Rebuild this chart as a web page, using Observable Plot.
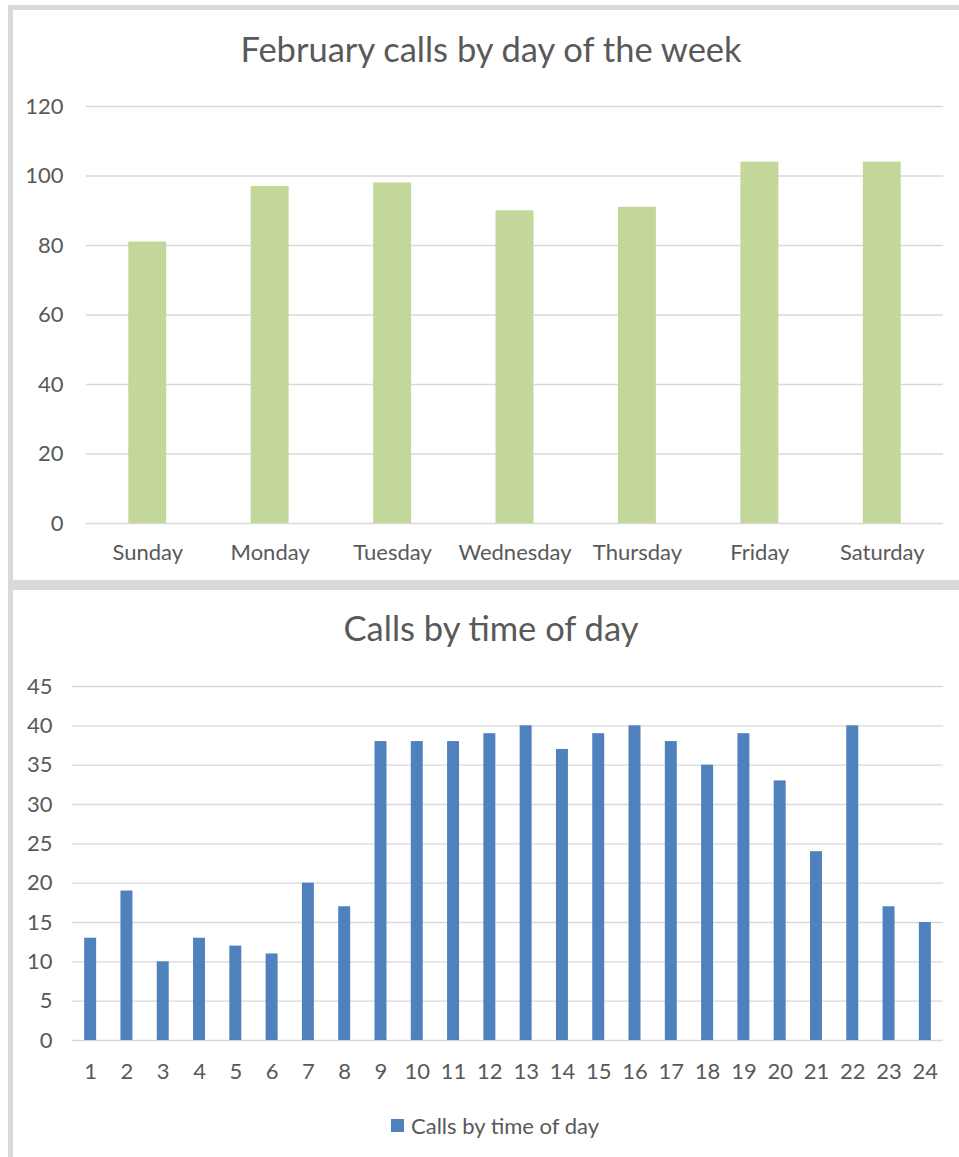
<!DOCTYPE html>
<html>
<head>
<meta charset="utf-8">
<script src="https://cdn.jsdelivr.net/npm/d3@7"></script>
<script src="https://cdn.jsdelivr.net/npm/@observablehq/plot@0.6"></script>
<style>
  html, body { margin: 0; padding: 0; background: #fff; }
  #page { position: relative; width: 959px; height: 1157px; overflow: hidden; font-family: Lato, sans-serif; color: #595959; }
  .band { position: absolute; background: #d9d9d9; }
  .title { position: absolute; left: 13px; width: 956px; text-align: center; font-size: 34.5px; line-height: 34.5px; color: #595959; white-space: nowrap; }
  .plot { position: absolute; left: 13px; }
  #legend { position: absolute; left: 391px; top: 1113px; height: 24px; display: flex; align-items: center; font-size: 22px; color: #595959; white-space: nowrap; }
  #legend .sw { width: 13px; height: 13px; background: #4f81bd; margin-right: 7px; }
</style>
</head>
<body>
<div id="page">
  <div class="band" style="left:8px;top:5px;width:951px;height:5px"></div>
  <div class="band" style="left:8px;top:5px;width:5px;height:1152px"></div>
  <div class="band" style="left:8px;top:580px;width:951px;height:10px"></div>
  <div class="title" id="t1" style="top:32px"></div>
  <div class="plot" id="p1" style="top:80px"></div>
  <div class="title" id="t2" style="top:611px"></div>
  <div class="plot" id="p2" style="top:660px"></div>
  <div id="legend"><div class="sw"></div><span id="legtext"></span></div>
</div>
<script>
// ---- data ----
const weekTitle = "February calls by day of the week";
const days = ["Sunday", "Monday", "Tuesday", "Wednesday", "Thursday", "Friday", "Saturday"];
const dayCalls = [81, 97, 98, 90, 91, 104, 104];
const dayTicks = [0, 20, 40, 60, 80, 100, 120];

const hourTitle = "Calls by time of day";
const hours = [1,2,3,4,5,6,7,8,9,10,11,12,13,14,15,16,17,18,19,20,21,22,23,24];
const hourCalls = [13,19,10,13,12,11,20,17,38,38,38,39,40,37,39,40,38,35,39,33,24,40,17,15];
const hourTicks = [0, 5, 10, 15, 20, 25, 30, 35, 40, 45];
const seriesName = "Calls by time of day";

// ---- tables ----
const dayData = days.map((d, i) => ({day: d, calls: dayCalls[i]}));
const hourData = hours.map((h, i) => ({hour: String(h), calls: hourCalls[i]}));

document.getElementById("t1").textContent = weekTitle;
document.getElementById("t2").textContent = hourTitle;
document.getElementById("legtext").textContent = seriesName;

const baseStyle = {fontFamily: "Lato, sans-serif", fontSize: "22px", color: "#595959", background: "transparent", overflow: "visible"};

const p1 = Plot.plot({
  width: 946,
  height: 500,
  marginLeft: 73,
  marginRight: 16,
  marginTop: 26,
  marginBottom: 57,
  style: baseStyle,
  x: {domain: days, paddingInner: 0.69, paddingOuter: 0.345, round: false, label: null},
  y: {domain: [0, 120], label: null},
  marks: [
    Plot.ruleY(dayTicks, {stroke: "#d9d9d9", strokeWidth: 1.3}),
    Plot.barY(dayData, {x: "day", y: "calls", fill: "#c4d79b"}),
    Plot.axisY({ticks: dayTicks, tickSize: 0, tickPadding: 23, label: null}),
    Plot.axisX({tickSize: 0, tickPadding: 21, label: null})
  ]
});
document.getElementById("p1").appendChild(p1);

const p2 = Plot.plot({
  width: 946,
  height: 440,
  marginLeft: 59,
  marginRight: 16,
  marginTop: 26,
  marginBottom: 60,
  style: baseStyle,
  x: {domain: hours.map(String), paddingInner: 0.67, paddingOuter: 0.335, round: false, label: null},
  y: {domain: [0, 45], label: null},
  marks: [
    Plot.ruleY(hourTicks, {stroke: "#d9d9d9", strokeWidth: 1.3}),
    Plot.barY(hourData, {x: "hour", y: "calls", fill: "#4f81bd"}),
    Plot.axisY({ticks: hourTicks, tickSize: 0, tickPadding: 20, label: null}),
    Plot.axisX({tickSize: 0, tickPadding: 23, label: null})
  ]
});
document.getElementById("p2").appendChild(p2);
</script>
</body>
</html>
